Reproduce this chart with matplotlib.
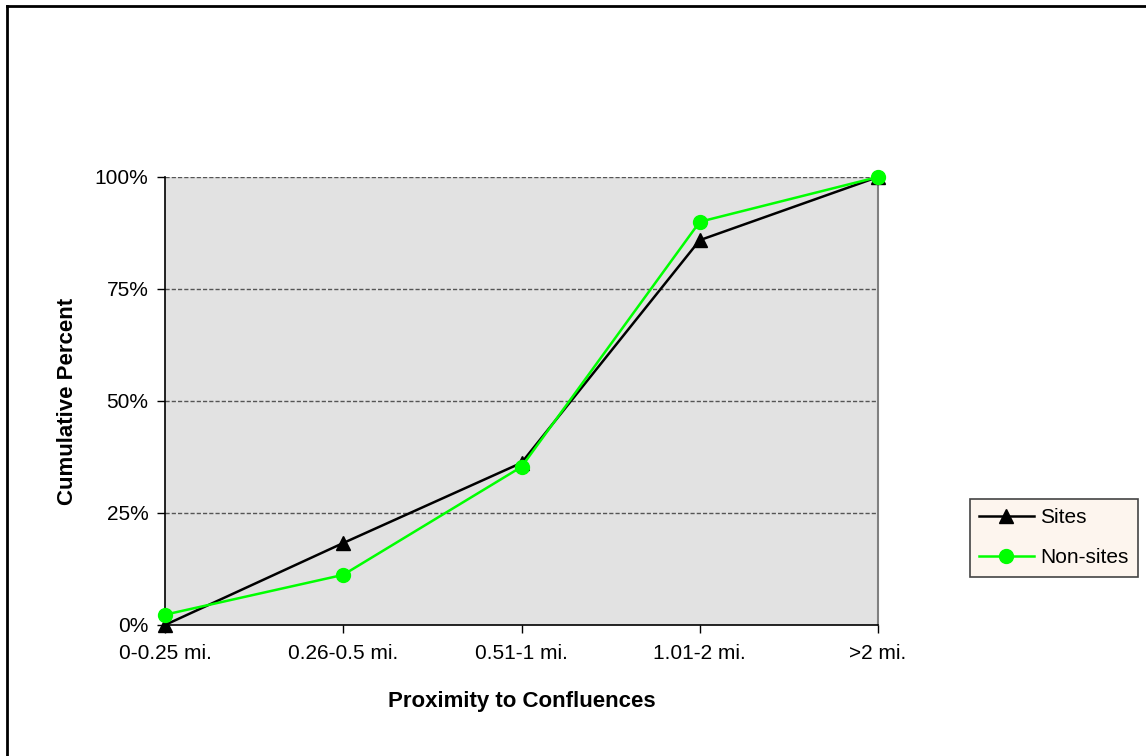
import matplotlib
matplotlib.use("Agg")
import matplotlib.pyplot as plt
from matplotlib.lines import Line2D

categories = ["0-0.25 mi.", "0.26-0.5 mi.", "0.51-1 mi.", "1.01-2 mi.", ">2 mi."]
sites = [0.0, 18.3, 36.2, 85.9, 100.0]
non_sites = [2.3, 11.2, 35.3, 90.0, 100.0]
yticks = [0, 25, 50, 75, 100]
ytick_labels = ["0%", "25%", "50%", "75%", "100%"]

plt.rcParams['font.family'] = ['Liberation Sans', 'DejaVu Sans']

fig = plt.figure(figsize=(11.46, 7.56), dpi=100)
ax = fig.add_axes([165/1146, 1-625/756, (878-165)/1146, (625-177)/756])
ax.set_facecolor('#e2e2e2')

x = list(range(len(categories)))
for yv in yticks[1:]:
    ax.axhline(yv, color='#555555', lw=1.0, ls=(0, (3, 1.5)), zorder=1)

ax.plot(x, sites, color='black', lw=1.8, marker='^', markersize=10,
        markerfacecolor='black', markeredgecolor='black', label='Sites', zorder=3, clip_on=False)
ax.plot(x, non_sites, color='#00ff00', lw=1.8, marker='o', markersize=10,
        markerfacecolor='#00ff00', markeredgecolor='#00ff00', label='Non-sites', zorder=4, clip_on=False)

ax.set_xlim(0, len(categories)-1)
ax.set_ylim(0, 100)
ax.set_xticks(x)
ax.set_xticklabels(categories, fontsize=15)
ax.set_yticks(yticks)
ax.set_yticklabels(ytick_labels, fontsize=15)
ax.tick_params(axis='both', direction='out', length=6, width=1, color='black')
ax.tick_params(axis='x', pad=8)
ax.tick_params(axis='y', pad=6)

ax.spines['top'].set_visible(False)
ax.spines['right'].set_color('#808080')
ax.spines['right'].set_linewidth(1.5)
ax.spines['left'].set_color('black')
ax.spines['bottom'].set_color('black')
ax.spines['left'].set_linewidth(1.2)
ax.spines['bottom'].set_linewidth(1.2)

ax.set_xlabel("Proximity to Confluences", fontsize=16, fontweight='bold', labelpad=20)
ax.set_ylabel("Cumulative Percent", fontsize=16, fontweight='bold', labelpad=12)

leg = fig.legend(handles=ax.get_lines()[-2:], labels=['Sites', 'Non-sites'],
                 loc='upper left', bbox_to_anchor=(970/1146, 1-499/756),
                 fontsize=15, frameon=True, fancybox=False, handlelength=2.6,
                 borderpad=0.45, labelspacing=1.0, handletextpad=0.3, borderaxespad=0)
leg.get_frame().set_facecolor('#fdf5ee')
leg.get_frame().set_edgecolor('#444444')
leg.get_frame().set_linewidth(1.2)
leg.get_frame().set_alpha(1)

# figure border (top and left)
fig.add_artist(Line2D([7/1146, 7/1146], [0, 1-6/756], color='black', lw=2.0, transform=fig.transFigure))
fig.add_artist(Line2D([7/1146, 1], [1-6/756, 1-6/756], color='black', lw=2.0, transform=fig.transFigure))

fig.savefig("out.png", dpi=100, facecolor='white')
